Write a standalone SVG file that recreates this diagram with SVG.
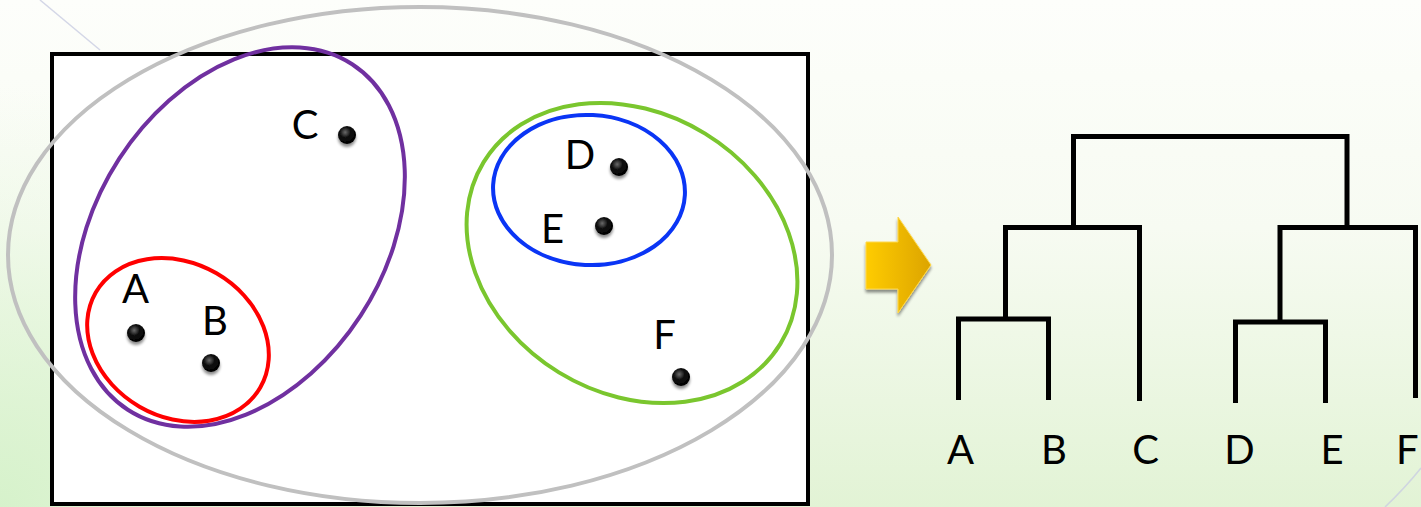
<svg xmlns="http://www.w3.org/2000/svg" width="1421" height="507" viewBox="0 0 1421 507">
  <defs>
    <linearGradient id="bg" x1="0" y1="0" x2="0" y2="1">
      <stop offset="0" stop-color="#fdfefb"/>
      <stop offset="0.45" stop-color="#f7fbf2"/>
      <stop offset="1" stop-color="#e2f3d5"/>
    </linearGradient>
    <radialGradient id="bgLeft" gradientUnits="userSpaceOnUse" cx="0" cy="507" r="420">
      <stop offset="0" stop-color="#d6f2cb" stop-opacity="1"/>
      <stop offset="1" stop-color="#e8f7e0" stop-opacity="0"/>
    </radialGradient>
    <linearGradient id="arrowGrad" x1="0" y1="0" x2="1" y2="0">
      <stop offset="0" stop-color="#ffcc00"/>
      <stop offset="1" stop-color="#dca400"/>
    </linearGradient>
    <radialGradient id="dotGrad" cx="0.4" cy="0.35" r="0.65">
      <stop offset="0" stop-color="#6a6a6a"/>
      <stop offset="0.45" stop-color="#111"/>
      <stop offset="1" stop-color="#000"/>
    </radialGradient>
    <filter id="shadow" x="-60%" y="-60%" width="220%" height="220%">
      <feGaussianBlur in="SourceAlpha" stdDeviation="1.6"/>
      <feOffset dx="0" dy="2.5" result="b"/>
      <feComponentTransfer><feFuncA type="linear" slope="0.45"/></feComponentTransfer>
      <feMerge><feMergeNode/><feMergeNode in="SourceGraphic"/></feMerge>
    </filter>
    <style>
      .lbl { font-family: Lato, "Open Sans", "Liberation Sans", sans-serif; font-size: 40px; fill: #000; text-anchor: middle; }
      .ring { fill: none; stroke-width: 4; }
      .dot { fill: url(#dotGrad); filter: url(#shadow); }
      .dendro { fill: none; stroke: #000; stroke-width: 5; stroke-linecap: butt; stroke-linejoin: miter; }
    </style>
  </defs>

  <!-- background -->
  <rect x="0" y="0" width="1421" height="507" fill="url(#bg)"/>
  <rect x="0" y="0" width="1421" height="507" fill="url(#bgLeft)"/>
  <path d="M40,0 L100,50" stroke="#c9cde2" stroke-width="1.5" fill="none" opacity="0.8"/>
  <path d="M1385,507 Q1405,488 1421,468" stroke="#c9cde2" stroke-width="1.5" fill="none" opacity="0.8"/>

  <!-- scatter panel -->
  <g id="panel">
    <rect x="52" y="54" width="756" height="450" fill="#fff" stroke="#000" stroke-width="4"/>
  </g>

  <g id="cluster-all">
    <ellipse class="ring" cx="420" cy="255" rx="412" ry="248" stroke="#c0c0c0"/>
  </g>
  <g id="cluster-ABC">
    <ellipse class="ring" cx="240" cy="237" rx="206" ry="144" transform="rotate(-57 240 237)" stroke="#7030a0"/>
  </g>
  <g id="cluster-AB">
    <ellipse class="ring" cx="178" cy="340" rx="95" ry="77" transform="rotate(30 178 340)" stroke="#ff0000"/>
  </g>
  <g id="cluster-DEF">
    <ellipse class="ring" cx="632" cy="253" rx="174" ry="140" transform="rotate(31.5 632 253)" stroke="#7ac62e"/>
  </g>
  <g id="cluster-DE">
    <ellipse class="ring" cx="589" cy="190" rx="96" ry="75" transform="rotate(3 589 190)" stroke="#0a35f5" stroke-width="4.5"/>
  </g>

  <g id="point-A"><circle class="dot" cx="136" cy="333" r="9"/><text class="lbl" x="135.5" y="303">A</text></g>
  <g id="point-B"><circle class="dot" cx="211" cy="363" r="9"/><text class="lbl" x="215" y="335">B</text></g>
  <g id="point-C"><circle class="dot" cx="347" cy="135" r="9"/><text class="lbl" x="305" y="139">C</text></g>
  <g id="point-D"><circle class="dot" cx="619" cy="167" r="9"/><text class="lbl" x="580" y="169">D</text></g>
  <g id="point-E"><circle class="dot" cx="604" cy="226" r="9"/><text class="lbl" x="552.5" y="243">E</text></g>
  <g id="point-F"><circle class="dot" cx="681" cy="377" r="9"/><text class="lbl" x="664.5" y="349">F</text></g>

  <!-- arrow -->
  <g id="arrow">
    <polygon points="866,242 898,242 898,217 931,265 898,313 898,289 866,289" fill="url(#arrowGrad)" stroke="#ffd84a" stroke-width="1" filter="url(#shadow)"/>
  </g>

  <!-- dendrogram connectors -->
  <g id="dendrogram">
    <polyline class="dendro" points="1073.5,227.5 1073.5,136.5 1347,136.5 1347,227.5"/>
    <polyline class="dendro" points="1005.5,319 1005.5,227.5 1139.5,227.5 1139.5,401"/>
    <polyline class="dendro" points="958.5,400 958.5,319 1048.5,319 1048.5,400"/>
    <polyline class="dendro" points="1280,322 1280,227.5 1415.5,227.5 1415.5,398"/>
    <polyline class="dendro" points="1235.5,403 1235.5,322 1325.5,322 1325.5,403"/>
  </g>

  <g id="leaf-A"><text class="lbl" x="960.5" y="464">A</text></g>
  <g id="leaf-B"><text class="lbl" x="1054" y="464">B</text></g>
  <g id="leaf-C"><text class="lbl" x="1145.5" y="464">C</text></g>
  <g id="leaf-D"><text class="lbl" x="1239.5" y="464">D</text></g>
  <g id="leaf-E"><text class="lbl" x="1332" y="464">E</text></g>
  <g id="leaf-F"><text class="lbl" x="1396" y="464" style="text-anchor:start">F</text></g>
</svg>
